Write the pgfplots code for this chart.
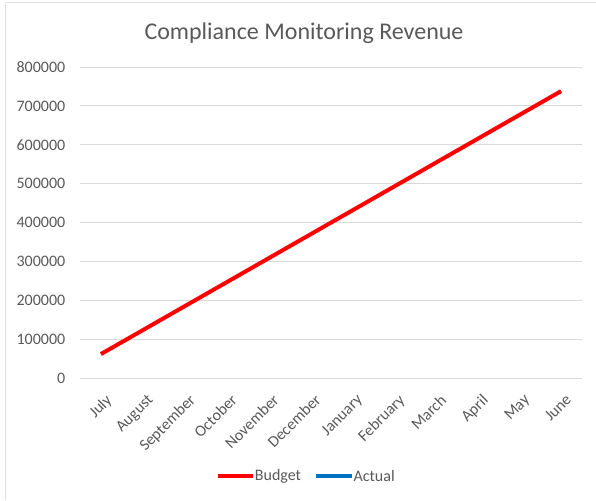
\documentclass[border=0pt]{standalone}
\usepackage{pgfplots}
\pgfplotsset{compat=1.18}
\usepackage{fontspec}
\setmainfont{Carlito}
\definecolor{txt}{RGB}{89,89,89}
\definecolor{gridc}{RGB}{217,217,217}
\definecolor{budget}{RGB}{255,0,0}
\definecolor{actual}{RGB}{0,112,192}
\begin{document}
\begin{tikzpicture}
\useasboundingbox (-60pt,-91.5pt) rectangle (387pt,283.5pt);
\draw[gridc!80!white, line width=0.75pt] (-55.5pt,-91.5pt) -- (-55.5pt,281.5pt) -- (387pt,281.5pt);
\begin{axis}[
  scale only axis,
  width=376.5pt, height=233.25pt,
  xmin=-0.5, xmax=11.5,
  ymin=0, ymax=800000,
  ytick={0,100000,...,800000},
  xtick={0,...,11},
  xticklabels={July,August,September,October,November,December,January,February,March,April,May,June},
  scaled y ticks=false,
  /pgf/number format/assume math mode=true,
  yticklabel={\pgfmathprintnumber[fixed,use comma=false,1000 sep={}]{\tick}},
  axis line style={draw=none},
  major tick length=0pt,
  xmajorgrids=false,
  ymajorgrids=true, grid style={draw=gridc, line width=0.75pt},
  tick label style={font=\fontsize{12pt}{14pt}\selectfont, text=txt},
  yticklabel style={xshift=-7.5pt},
  xticklabel style={rotate=45, anchor=north east, inner sep=1pt, xshift=-5pt, yshift=-9pt},
  clip=false,
]
\addplot[budget, line width=3pt] coordinates {
(0,61500) (1,123000) (2,184500) (3,246000) (4,307500) (5,369000)
(6,430500) (7,492000) (8,553500) (9,615000) (10,676500) (11,738000)};
\end{axis}
\node[text=txt, font=\fontsize{18pt}{20pt}\selectfont] at (168pt,258.5pt) {Compliance Monitoring Revenue};
\begin{scope}[shift={(168pt,-73.5pt)}]
\draw[budget, line width=3pt] (-64.5pt,0) -- (-38pt,0);
\node[text=txt, font=\fontsize{12pt}{14pt}\selectfont, anchor=west, inner sep=1pt] at (-38pt,0) {Budget};
\draw[actual, line width=3pt] (9pt,0) -- (36pt,0);
\node[text=txt, font=\fontsize{12pt}{14pt}\selectfont, anchor=west, inner sep=1pt] at (36pt,0) {Actual};
\end{scope}
\end{tikzpicture}
\end{document}
